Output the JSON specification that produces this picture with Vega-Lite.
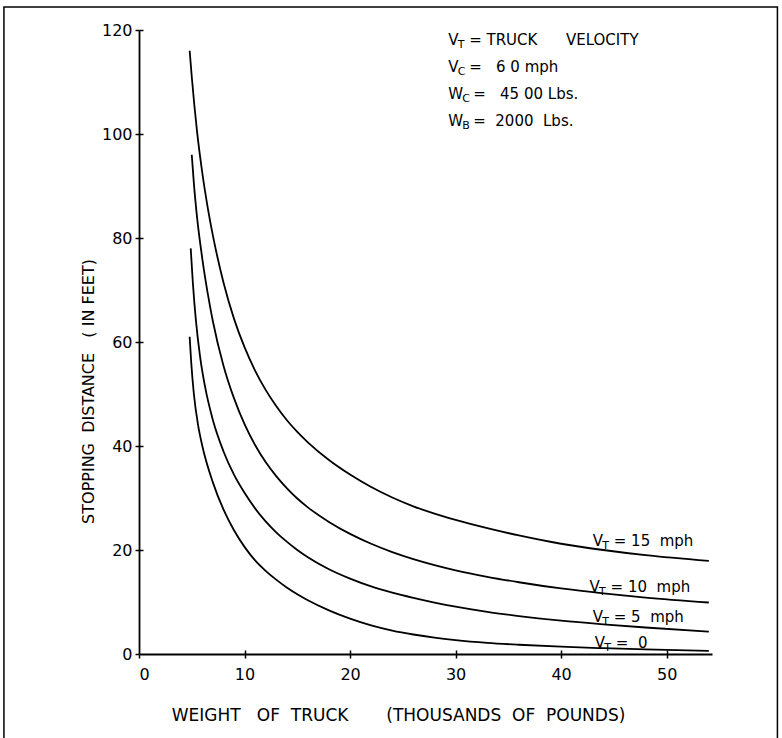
{
  "$schema": "https://vega.github.io/schema/vega-lite/v6.json",
  "width": 573,
  "height": 624,
  "autosize": {"type": "none"},
  "padding": {"left": 139, "top": 30, "right": 70, "bottom": 84},
  "background": "white",
  "config": {
    "view": {"stroke": null},
    "font": "DejaVu Sans",
    "axis": {
      "grid": false,
      "domainColor": "black",
      "domainWidth": 1.8,
      "tickColor": "black",
      "tickWidth": 1.5,
      "tickSize": 4,
      "labelFont": "DejaVu Sans",
      "labelFontSize": 16,
      "labelColor": "black",
      "titleFont": "DejaVu Sans",
      "titleFontSize": 16,
      "titleFontWeight": "normal",
      "titleColor": "black"
    }
  },
  "datasets": {
    "curves": [
      {"vt": "15", "w": 4.8, "d": 116}, {"vt": "15", "w": 5.0, "d": 111}, {"vt": "15", "w": 5.5, "d": 100.5},
      {"vt": "15", "w": 6, "d": 92.5}, {"vt": "15", "w": 6.5, "d": 86}, {"vt": "15", "w": 7, "d": 80.5},
      {"vt": "15", "w": 8, "d": 71.5}, {"vt": "15", "w": 9, "d": 64.5}, {"vt": "15", "w": 10, "d": 59},
      {"vt": "15", "w": 11, "d": 54.5}, {"vt": "15", "w": 12, "d": 50.8}, {"vt": "15", "w": 13, "d": 47.7},
      {"vt": "15", "w": 14, "d": 45.0}, {"vt": "15", "w": 15, "d": 42.7}, {"vt": "15", "w": 16, "d": 40.7},
      {"vt": "15", "w": 18, "d": 37.3}, {"vt": "15", "w": 20, "d": 34.5}, {"vt": "15", "w": 22, "d": 32.1},
      {"vt": "15", "w": 24, "d": 30.1}, {"vt": "15", "w": 26, "d": 28.4}, {"vt": "15", "w": 28, "d": 27.0},
      {"vt": "15", "w": 30, "d": 25.8}, {"vt": "15", "w": 33, "d": 24.2}, {"vt": "15", "w": 36, "d": 22.8},
      {"vt": "15", "w": 40, "d": 21.2}, {"vt": "15", "w": 44, "d": 20.0}, {"vt": "15", "w": 48, "d": 19.0},
      {"vt": "15", "w": 54, "d": 17.9},

      {"vt": "10", "w": 5.0, "d": 96}, {"vt": "10", "w": 5.2, "d": 90.5}, {"vt": "10", "w": 5.5, "d": 84},
      {"vt": "10", "w": 6, "d": 76}, {"vt": "10", "w": 6.5, "d": 69.5}, {"vt": "10", "w": 7, "d": 64},
      {"vt": "10", "w": 8, "d": 55.5}, {"vt": "10", "w": 9, "d": 49.2}, {"vt": "10", "w": 10, "d": 44.2},
      {"vt": "10", "w": 11, "d": 40.2}, {"vt": "10", "w": 12, "d": 36.9}, {"vt": "10", "w": 13, "d": 34.2},
      {"vt": "10", "w": 14, "d": 31.9}, {"vt": "10", "w": 15, "d": 29.9}, {"vt": "10", "w": 16, "d": 28.2},
      {"vt": "10", "w": 18, "d": 25.4}, {"vt": "10", "w": 20, "d": 23.1}, {"vt": "10", "w": 22, "d": 21.2},
      {"vt": "10", "w": 24, "d": 19.6}, {"vt": "10", "w": 26, "d": 18.25}, {"vt": "10", "w": 28, "d": 17.1},
      {"vt": "10", "w": 30, "d": 16.1}, {"vt": "10", "w": 33, "d": 14.85}, {"vt": "10", "w": 36, "d": 13.8},
      {"vt": "10", "w": 40, "d": 12.6}, {"vt": "10", "w": 44, "d": 11.65}, {"vt": "10", "w": 48, "d": 10.85},
      {"vt": "10", "w": 54, "d": 9.9},

      {"vt": "5", "w": 4.9, "d": 78}, {"vt": "5", "w": 5.1, "d": 71.5}, {"vt": "5", "w": 5.4, "d": 64},
      {"vt": "5", "w": 5.8, "d": 57}, {"vt": "5", "w": 6.25, "d": 51.5}, {"vt": "5", "w": 7, "d": 45},
      {"vt": "5", "w": 8, "d": 39}, {"vt": "5", "w": 9, "d": 34.5}, {"vt": "5", "w": 10, "d": 31},
      {"vt": "5", "w": 11, "d": 28}, {"vt": "5", "w": 12, "d": 25.5}, {"vt": "5", "w": 13, "d": 23.4},
      {"vt": "5", "w": 14, "d": 21.6}, {"vt": "5", "w": 15, "d": 20.0}, {"vt": "5", "w": 16, "d": 18.6},
      {"vt": "5", "w": 18, "d": 16.3}, {"vt": "5", "w": 20, "d": 14.5}, {"vt": "5", "w": 22, "d": 13.0},
      {"vt": "5", "w": 24, "d": 11.8}, {"vt": "5", "w": 26, "d": 10.8}, {"vt": "5", "w": 28, "d": 9.9},
      {"vt": "5", "w": 30, "d": 9.1}, {"vt": "5", "w": 33, "d": 8.1}, {"vt": "5", "w": 36, "d": 7.3},
      {"vt": "5", "w": 40, "d": 6.4}, {"vt": "5", "w": 44, "d": 5.7}, {"vt": "5", "w": 48, "d": 5.1},
      {"vt": "5", "w": 54, "d": 4.3},

      {"vt": "0", "w": 4.8, "d": 61}, {"vt": "0", "w": 4.95, "d": 56}, {"vt": "0", "w": 5.2, "d": 50},
      {"vt": "0", "w": 5.6, "d": 44}, {"vt": "0", "w": 6, "d": 40}, {"vt": "0", "w": 7, "d": 33},
      {"vt": "0", "w": 8, "d": 27.8}, {"vt": "0", "w": 9, "d": 23.8}, {"vt": "0", "w": 10, "d": 20.6},
      {"vt": "0", "w": 11, "d": 18.0}, {"vt": "0", "w": 12, "d": 16.0}, {"vt": "0", "w": 13, "d": 14.3},
      {"vt": "0", "w": 14, "d": 12.8}, {"vt": "0", "w": 15, "d": 11.5}, {"vt": "0", "w": 16, "d": 10.35},
      {"vt": "0", "w": 18, "d": 8.4}, {"vt": "0", "w": 20, "d": 6.8}, {"vt": "0", "w": 22, "d": 5.5},
      {"vt": "0", "w": 24, "d": 4.5}, {"vt": "0", "w": 26, "d": 3.75}, {"vt": "0", "w": 28, "d": 3.15},
      {"vt": "0", "w": 30, "d": 2.68}, {"vt": "0", "w": 33, "d": 2.15}, {"vt": "0", "w": 36, "d": 1.78},
      {"vt": "0", "w": 40, "d": 1.4}, {"vt": "0", "w": 44, "d": 1.12}, {"vt": "0", "w": 48, "d": 0.88},
      {"vt": "0", "w": 54, "d": 0.6}
    ],
    "notes": [
      {"x": 29.3, "y": 118.1, "main": "V", "sub": "T", "rest": "=\u00a0TRUCK\u00a0\u00a0\u00a0\u00a0\u00a0\u00a0VELOCITY", "kind": "V"},
      {"x": 29.3, "y": 112.9, "main": "V", "sub": "C", "rest": "=\u00a0\u00a0\u00a06\u00a00\u00a0mph", "kind": "V"},
      {"x": 29.3, "y": 107.7, "main": "W", "sub": "C", "rest": "=\u00a0\u00a0\u00a045\u00a000\u00a0Lbs.", "kind": "W"},
      {"x": 29.3, "y": 102.5, "main": "W", "sub": "B", "rest": "=\u00a0\u00a02000\u00a0\u00a0Lbs.", "kind": "W"},
      {"x": 43.0, "y": 21.7, "main": "V", "sub": "T", "rest": "=\u00a015\u00a0\u00a0mph", "kind": "V"},
      {"x": 42.7, "y": 12.8, "main": "V", "sub": "T", "rest": "=\u00a010\u00a0\u00a0mph", "kind": "V"},
      {"x": 43.0, "y": 7.1, "main": "V", "sub": "T", "rest": "=\u00a05\u00a0\u00a0mph", "kind": "V"},
      {"x": 43.2, "y": 2.2, "main": "V", "sub": "T", "rest": "=\u00a0\u00a00", "kind": "V"}
    ]
  },
  "resolve": {"axis": {"x": "independent", "y": "independent"}},
  "layer": [
    {
      "data": {"name": "curves"},
      "mark": {"type": "line", "interpolate": "monotone", "stroke": "black", "strokeWidth": 1.8},
      "encoding": {
        "x": {
          "field": "w", "type": "quantitative",
          "scale": {"domain": [0, 54.3], "nice": false, "zero": false},
          "axis": {
            "values": [0, 10, 20, 30, 40, 50],
            "labelPadding": 8,
            "title": "WEIGHT\u00a0\u00a0\u00a0OF\u00a0\u00a0TRUCK\u00a0\u00a0\u00a0\u00a0\u00a0\u00a0\u00a0(THOUSANDS\u00a0\u00a0OF\u00a0\u00a0POUNDS)",
            "titleFontSize": 17,
            "titleX": 259, "titleY": 61, "titleAlign": "center", "titleBaseline": "middle"
          }
        },
        "y": {
          "field": "d", "type": "quantitative",
          "scale": {"domain": [0, 120], "nice": false},
          "axis": {
            "values": [0, 20, 40, 60, 80, 100, 120],
            "labelPadding": 3,
            "title": "STOPPING\u00a0\u00a0DISTANCE\u00a0\u00a0\u00a0(\u00a0IN\u00a0FEET)",
            "titleX": -51, "titleY": 361, "titleAngle": -90, "titleAlign": "center", "titleBaseline": "middle"
          }
        },
        "detail": {"field": "vt"}
      }
    },
    {
      "data": {"values": [{}]},
      "mark": {"type": "rect", "fill": null, "stroke": "black", "strokeWidth": 1.5},
      "encoding": {
        "x": {"datum": -12.8, "type": "quantitative", "axis": {"orient": "bottom", "offset": -4, "values": [10, 20, 30, 40, 50], "labels": false, "domain": false, "tickSize": 4, "title": null}},
        "x2": {"datum": 60.5},
        "y": {"datum": 124.4, "type": "quantitative", "axis": {"orient": "left", "offset": -4, "values": [20, 40, 60, 80, 100, 120], "labels": false, "domain": false, "tickSize": 4, "title": null}},
        "y2": {"datum": -18}
      }
    },
    {
      "data": {"name": "notes"},
      "mark": {"type": "text", "align": "left", "baseline": "middle", "fontSize": 15, "font": "DejaVu Sans", "color": "black"},
      "encoding": {
        "x": {"field": "x", "type": "quantitative", "axis": null},
        "y": {"field": "y", "type": "quantitative", "axis": null},
        "text": {"field": "main"}
      }
    },
    {
      "data": {"name": "notes"},
      "transform": [{"filter": "datum.kind === 'V'"}],
      "mark": {"type": "text", "align": "left", "baseline": "middle", "fontSize": 11, "dx": 9.5, "dy": 5, "font": "DejaVu Sans", "color": "black"},
      "encoding": {
        "x": {"field": "x", "type": "quantitative", "axis": null},
        "y": {"field": "y", "type": "quantitative", "axis": null},
        "text": {"field": "sub"}
      }
    },
    {
      "data": {"name": "notes"},
      "transform": [{"filter": "datum.kind === 'W'"}],
      "mark": {"type": "text", "align": "left", "baseline": "middle", "fontSize": 11, "dx": 14, "dy": 5, "font": "DejaVu Sans", "color": "black"},
      "encoding": {
        "x": {"field": "x", "type": "quantitative", "axis": null},
        "y": {"field": "y", "type": "quantitative", "axis": null},
        "text": {"field": "sub"}
      }
    },
    {
      "data": {"name": "notes"},
      "transform": [{"filter": "datum.kind === 'V'"}],
      "mark": {"type": "text", "align": "left", "baseline": "middle", "fontSize": 15, "dx": 21, "font": "DejaVu Sans", "color": "black"},
      "encoding": {
        "x": {"field": "x", "type": "quantitative", "axis": null},
        "y": {"field": "y", "type": "quantitative", "axis": null},
        "text": {"field": "rest"}
      }
    },
    {
      "data": {"name": "notes"},
      "transform": [{"filter": "datum.kind === 'W'"}],
      "mark": {"type": "text", "align": "left", "baseline": "middle", "fontSize": 15, "dx": 25, "font": "DejaVu Sans", "color": "black"},
      "encoding": {
        "x": {"field": "x", "type": "quantitative", "axis": null},
        "y": {"field": "y", "type": "quantitative", "axis": null},
        "text": {"field": "rest"}
      }
    }
  ]
}
